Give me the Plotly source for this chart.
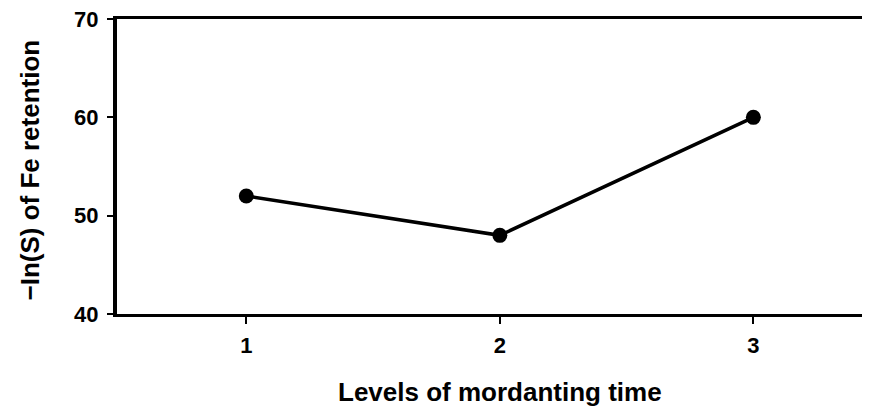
import plotly.graph_objects as go

levels = [1, 2, 3]
values = [52, 48, 60]
y_ticks = [40, 50, 60, 70]
x_title = "Levels of mordanting time"
y_title = "−In(S) of Fe retention"

fig = go.Figure()
fig.add_trace(go.Scatter(
    x=levels, y=values, mode="lines+markers",
    line=dict(color="black", width=3.5),
    marker=dict(color="black", size=15),
    showlegend=False,
))

fam = "Liberation Sans, Arial, sans-serif"
tickfont = dict(family=fam, size=22, color="black")
titlefont = dict(family=fam, size=26, color="black")
fig.update_layout(
    width=862, height=406,
    margin=dict(l=109, r=0, t=11, b=100),
    plot_bgcolor="white", paper_bgcolor="white",
    xaxis=dict(
        range=[0.49, 3.46], tickvals=levels, ticktext=[f"<b>{v}</b>" for v in levels],
        tickfont=tickfont, automargin=False,
        ticks="outside", ticklen=7, tickwidth=2, tickcolor="black",
        showline=True, linecolor="black", linewidth=3, mirror=True,
        showgrid=False, zeroline=False, ticklabelstandoff=3,
    ),
    yaxis=dict(
        range=[40, 70], tickvals=y_ticks, ticktext=[f"<b>{v}</b>" for v in y_ticks],
        tickfont=tickfont, automargin=False, ticklabeloverflow="allow",
        ticks="outside", ticklen=6, tickwidth=2, tickcolor="black",
        showline=True, linecolor="black", linewidth=4, mirror=False,
        showgrid=False, zeroline=False, ticklabelstandoff=4,
    ),
    annotations=[
        dict(text=f"<b>{x_title}</b>", xref="paper", yref="paper", x=0.5086, y=0,
             xanchor="center", yanchor="middle", yshift=-78, showarrow=False, font=titlefont),
        dict(text=f"<b>{y_title}</b>", xref="paper", yref="paper", x=0, y=0.5,
             xanchor="center", yanchor="middle", xshift=-88, yshift=-4, textangle=-90,
             showarrow=False, font=titlefont),
    ],
)
fig.write_html("out.html")
